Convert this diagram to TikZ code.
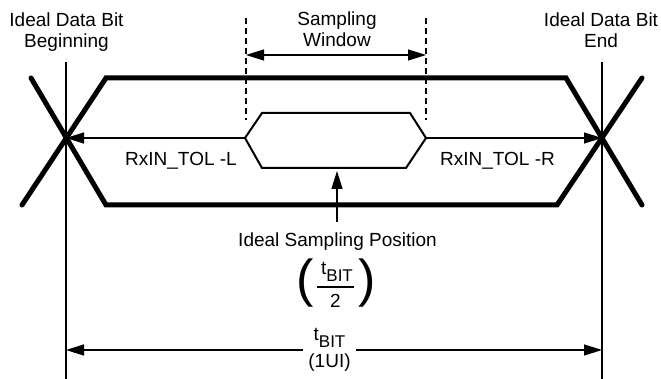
\documentclass[tikz,border=0pt]{standalone}
\usepackage{fontspec}
\setmainfont{Liberation Sans}
\usetikzlibrary{arrows.meta}
\newcommand\tBitSub{t\raisebox{-7pt}{\fontsize{17}{17}\selectfont BIT}}
\begin{document}
\begin{tikzpicture}[x=1pt,y=-1pt,
  sigline/.style={line width=5pt,line cap=round,line join=miter},
  thinln/.style={line width=1.3pt},
  hexln/.style={line width=2pt,line join=miter},
  arr/.style={thinln,-{Triangle[length=18pt,width=11pt]}},
  dbl/.style={thinln,{Triangle[length=18pt,width=11pt]}-{Triangle[length=18pt,width=11pt]}},
  lbl/.style={inner sep=0pt,font=\fontsize{19}{21}\selectfont,align=center},
  winln/.style={line width=1.5pt,dash pattern=on 6pt off 4pt}]
\useasboundingbox (0,0) rectangle (661,379);
% key points
\coordinate (XL) at (66,138);
\coordinate (XR) at (602,138);
\coordinate (XLtop) at (66,62);
\coordinate (XLbot) at (66,379);
\coordinate (XRtop) at (602,62);
\coordinate (XRbot) at (602,379);
\coordinate (HL) at (245,138);
\coordinate (HR) at (426,138);
\coordinate (DLt) at (246,18);
\coordinate (DLb) at (246,120);
\coordinate (DRt) at (426,18);
\coordinate (DRb) at (426,120);
\coordinate (WL) at (246,55);
\coordinate (WR) at (426,55);
\coordinate (SP) at (337,171);
\coordinate (SPb) at (337,222);
\coordinate (BL) at (66,350);
\coordinate (BR) at (602,350);
% ideal bit boundaries
\draw[thinln] (XLtop) -- (XLbot);
\draw[thinln] (XRtop) -- (XRbot);
% eye / data signal
\draw[sigline] (31,78) -- (106,205) -- (557,205) -- (642,78);
\draw[sigline] (22,205) -- (106,78) -- (566,78) -- (642,205);
% sampling window hexagon
\draw[hexln] (HL) -- (262,113) -- (410,113) -- (HR) -- (406,168) -- (262,168) -- cycle;
% dashed window limits
\draw[winln] (DLt) -- (DLb);
\draw[winln] (DRt) -- (DRb);
\draw[dbl] (WL) -- (WR);
% labels
\node[lbl,anchor=north] (beg) at (66.5,13) {Ideal Data Bit\\Beginning};
\node[lbl,anchor=north] (end) at (601,13) {Ideal Data Bit\\End};
\node[lbl,anchor=north] (win) at (337,12) {Sampling\\Window};
% tolerance arrows
\draw[arr] (HL) -- (XL);
\draw[arr] (HR) -- (XR);
\node[lbl,anchor=base] (tolL) at (181,166) {RxIN\_TOL -L};
\node[lbl,anchor=base] (tolR) at (497.5,166) {RxIN\_TOL -R};
% ideal sampling position
\draw[arr] (SPb) -- (SP);
\node[lbl,anchor=base] (isp) at (337.5,246.5) {Ideal Sampling Position};
\node[lbl,anchor=base] (num) at (337,275) {\tBitSub};
\draw[thinln] (317,287) -- (354,287);
\node[lbl,anchor=base] (den) at (335.5,307) {2};
\node[inner sep=0pt,anchor=base,font=\fontsize{52}{52}\selectfont] (lp) at (305.6,296) {(};
\node[inner sep=0pt,anchor=base,font=\fontsize{52}{52}\selectfont] (rp) at (367.2,296) {)};
% bit time
\node[lbl,anchor=north,inner xsep=5pt] (tb) at (329.5,328) {\tBitSub\\[6pt](1UI)};
\draw[arr] (BL -| tb.west) -- (BL);
\draw[arr] (BR -| tb.east) -- (BR);
\end{tikzpicture}
\end{document}
